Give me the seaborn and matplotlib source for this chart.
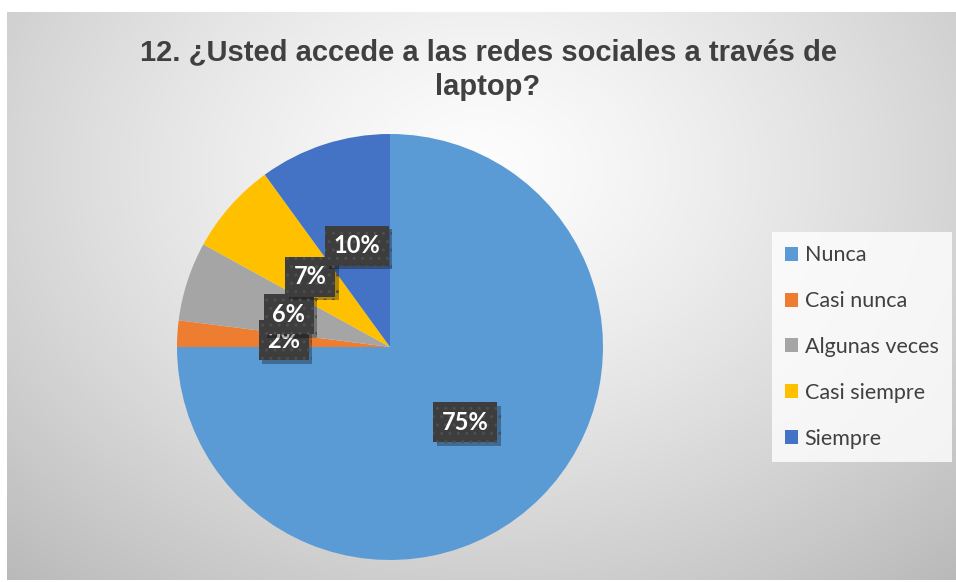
import numpy as np
import matplotlib
matplotlib.use("Agg")
import matplotlib.pyplot as plt
import seaborn as sns
from matplotlib.patches import Patch
from matplotlib import patheffects as pe

# Survey answers and their share of respondents (%)
categories = ["Nunca", "Casi nunca", "Algunas veces", "Casi siempre", "Siempre"]
percentages = [75, 2, 6, 7, 10]
colors = ["#5B9BD5", "#ED7D31", "#A5A5A5", "#FFC000", "#4472C4"]
title_text = "12. ¿Usted accede a las redes sociales a través de\nlaptop?"

sns.set_theme(style="white")
plt.rcParams["font.family"] = ["Lato", "DejaVu Sans"]

W, H = 956, 582
fig = plt.figure(figsize=(W / 100, H / 100), dpi=100)
fig.patch.set_facecolor("white")

# Chart area with a soft radial grey gradient
x0, x1, y0, y1 = 7, 956, 12, 580
bg = fig.add_axes([x0 / W, (H - y1) / H, (x1 - x0) / W, (y1 - y0) / H], zorder=0)
yy, xx = np.mgrid[y0:y1, x0:x1].astype(float)
r = np.sqrt(((xx - 480) / 520) ** 2 + ((yy - 170) / 400) ** 2)
shade = 253 - 45 * np.clip(r, 0, 1.5) ** 1.3
img = np.dstack([shade, shade, shade]) / 255.0
bg.imshow(np.clip(img, 0, 1), aspect="auto", extent=[x0, x1, y1, y0], interpolation="bilinear")
bg.set_axis_off()

# Pie
ax = fig.add_axes([177 / W, 22 / H, 426 / W, 426 / H], zorder=2)
wedges, texts, autotexts = ax.pie(
    percentages,
    colors=colors,
    startangle=90,
    counterclock=False,
    autopct="%1.0f%%",
    pctdistance=0.5,
    wedgeprops=dict(linewidth=0),
)
ax.set_xlim(-1, 1)
ax.set_ylim(-1, 1)
ax.set_aspect("equal")
ax.set_axis_off()

for i, t in enumerate(autotexts):
    t.set_color("white")
    t.set_fontsize(17)
    t.set_fontweight("bold")
    t.set_zorder(10 + i)
    t.set_bbox(dict(boxstyle="square,pad=0.36", facecolor="#3D3D3D",
                    edgecolor="#4E4E4E", linewidth=0, hatch=".."))
    t.get_bbox_patch().set_path_effects([
        pe.SimplePatchShadow(offset=(2.5, -2.5), shadow_rgbFace="black", alpha=0.3),
        pe.Normal(),
    ])

# Title
fig.text(488 / W, 1 - 70 / H, title_text, ha="center", va="center",
         fontsize=21, fontweight="bold", color="#404040",
         family=["Liberation Sans", "DejaVu Sans"], linespacing=1.3)

# Legend
handles = [Patch(facecolor=c, edgecolor="none") for c in colors]
leg = fig.legend(
    handles, categories,
    loc="center left",
    bbox_to_anchor=(772 / W, (H - 347) / H),
    frameon=True, fancybox=False,
    fontsize=15.5, labelcolor="#404040",
    handlelength=0.62, handleheight=0.62, handletextpad=0.3,
    labelspacing=1.2, borderpad=0.6, borderaxespad=0,
)
leg.get_frame().set_facecolor((1, 1, 1, 0.55))
leg.get_frame().set_edgecolor("none")

fig.savefig("out.png", dpi=100)
